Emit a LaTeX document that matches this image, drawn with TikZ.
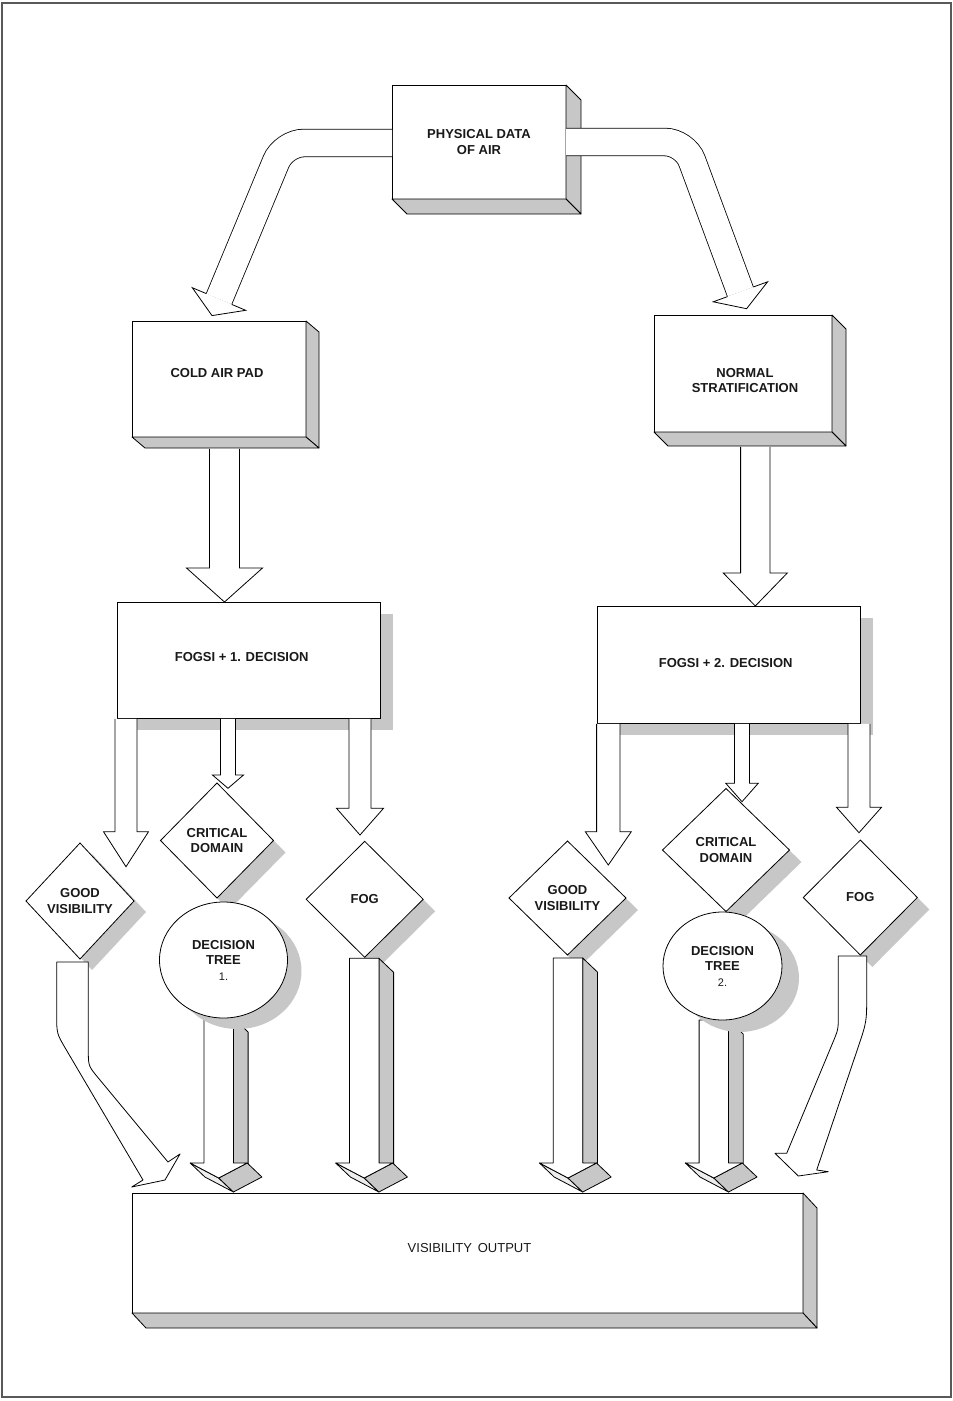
\documentclass[tikz,border=0pt]{standalone}
\usepackage{fontspec}
\setmainfont{Liberation Sans}
\usetikzlibrary{shapes.geometric,calc}
\pgfdeclarelayer{bg}
\pgfdeclarelayer{mid}
\pgfdeclarelayer{fore}
\pgfsetlayers{bg,main,mid,fore}
\tikzset{
  shade3/.style={fill=black!22, draw=black, line width=0.8pt, line join=round},
  shadowc/.style={fill=black!22},
  lite/.style={fill=black!7, draw=black, line width=0.8pt, line join=round},
  boxn/.style={draw=black, line width=0.8pt, fill=white, rectangle, inner sep=0pt, outer sep=0pt},
  dia/.style={diamond, draw=black, line width=0.8pt, fill=white, inner sep=0pt, outer sep=0pt},
  ell/.style={ellipse, draw=black, line width=0.8pt, fill=white, inner sep=0pt, outer sep=0pt},
  lbl/.style={font=\fontsize{13}{15.5}\selectfont\bfseries, align=center, text=black!90},
  hol/.style={draw=black, line width=0.8pt, double=white, double distance=26.8pt, rounded corners=20pt},
  harr/.style={fill=white, draw=black, line width=0.8pt, line join=miter},
}
% extrusion of a box node
\newcommand\extr[3]{%
  \filldraw[shade3] (#1.north east) -- ++(#2,#3) -- ($(#1.south east)+(#2,#3)$) -- (#1.south east) -- cycle;
  \filldraw[shade3] (#1.south west) -- (#1.south east) -- ($(#1.south east)+(#2,#3)$) -- ($(#1.south west)+(#2,#3)$) -- cycle;
}
% hollow vertical arrow: top, tip, half shaft, half head, head length
\newcommand\vhol[5]{%
  \coordinate (hb) at ($(#2)+(0,-#5)$);
  \filldraw[harr] ($(#1)+(-#3,0.8)$) -- ($(hb -| #1)+(-#3,0)$) -- ($(hb)+(-#4,0)$) -- (#2) -- ($(hb)+(#4,0)$) -- ($(hb -| #1)+(#3,0)$) -- ($(#1)+(#3,0.8)$);
}
% 3d arrow: top coordinate, head base coordinate
\newcommand\darr[2]{%
  \coordinate (T0) at (#1);
  \coordinate (B0) at (#2 -| T0);
  \filldraw[shade3] ($(T0)+(14.7,0)$) -- ($(T0)+(29.4,14)$) -- ($(B0)+(29.4,14)$) -- ($(B0)+(14.7,0)$) -- cycle;
  \filldraw[lite] ($(B0)+(-28.5,0)$) -- ($(B0)+(0,15)$) -- ($(B0)+(14.7,29)$) -- ($(B0)+(-13.8,14)$) -- cycle;
  \filldraw[shade3] ($(B0)+(0,15)$) -- ($(B0)+(28.5,0)$) -- ($(B0)+(43.2,14)$) -- ($(B0)+(14.7,29)$) -- cycle;
  \filldraw[fill=white, draw=black, line width=0.8pt, line join=round] ($(T0)+(-14.7,0)$) -- ($(B0)+(-14.7,0)$) -- ($(B0)+(-28.5,0)$) -- ($(B0)+(0,15)$) -- ($(B0)+(28.5,0)$) -- ($(B0)+(14.7,0)$) -- ($(T0)+(14.7,0)$) -- cycle;
}
\begin{document}
\begin{tikzpicture}[x=1pt,y=-1pt]
\useasboundingbox (0,0) rectangle (953,1401);
\draw[black!65, line width=1.4pt] (2,3) rectangle (951,1397);

% ---------- boxes ----------
\node[boxn, minimum width=174, minimum height=114, lbl] (phys) at (479,142) {PHYSICAL DATA\\OF AIR};
\extr{phys}{15}{15}

\node[boxn, minimum width=174, minimum height=116] (cap) at (219,379) {};
\node[lbl] (capl) at (217,373) {COLD AIR PAD};
\extr{cap}{13}{11}

\node[boxn, minimum width=178, minimum height=117] (norm) at (743,373.5) {};
\node[lbl] (norml) at (745,380.5) {NORMAL\\STRATIFICATION};
\extr{norm}{14}{14}

\node[boxn, minimum width=263, minimum height=116] (f1) at (248.5,660) {};
\node[lbl] (f1l) at (241.7,657.5) {FOGSI + 1. DECISION};
\node[boxn, minimum width=263, minimum height=117] (f2) at (728.5,664.5) {};
\node[lbl] (f2l) at (725.7,663.3) {FOGSI + 2. DECISION};
\begin{pgfonlayer}{bg}
  \fill[shadowc] ($(f1.south west)+(13,12)$) rectangle ($(f1.north east)+(13,12)$);
  \fill[shadowc] ($(f2.south west)+(13,12)$) rectangle ($(f2.north east)+(13,12)$);
\end{pgfonlayer}

\node[boxn, minimum width=671, minimum height=120] (vo) at (467.5,1253) {};
\node[lbl, font=\fontsize{13}{15.5}\selectfont] (vol) at (469.5,1248) {VISIBILITY\, OUTPUT};
\extr{vo}{14}{15}

% ---------- diamonds ----------
\node[dia, minimum width=108, minimum height=116, lbl] (gv1) at (80,901) {GOOD\\VISIBILITY};
\node[dia, minimum width=113, minimum height=115, lbl] (cd1) at (217,840.5) {CRITICAL\\DOMAIN};
\node[dia, minimum width=117, minimum height=116, lbl] (fog1) at (364.7,899.3) {FOG};
\node[dia, minimum width=117, minimum height=114, lbl] (gv2) at (567.5,898) {GOOD\\VISIBILITY};
\node[dia, minimum width=127, minimum height=123, lbl] (cd2) at (726,850) {CRITICAL\\DOMAIN};
\node[dia, minimum width=114, minimum height=115, lbl] (fog2) at (860.3,897.5) {FOG};
\begin{pgfonlayer}{bg}
  \foreach \d/\ox/\oy in {gv1/12/11, cd1/12/12, fog1/12/12, gv2/12/12, cd2/12/12, fog2/12/12}{
    \fill[shadowc] ($(\d.north)+(\ox,\oy)$) -- ($(\d.east)+(\ox,\oy)$) -- ($(\d.south)+(\ox,\oy)$) -- ($(\d.west)+(\ox,\oy)$) -- cycle;
  }
\end{pgfonlayer}

% ---------- decision tree ellipses ----------
\begin{pgfonlayer}{fore}
\node[ell, minimum width=128, minimum height=116, lbl] (dt1) at (223.5,960) {DECISION\\TREE\\{\fontsize{11}{15.5}\selectfont\mdseries 1.}};
\node[ell, minimum width=119, minimum height=108, lbl] (dt2) at (722.5,966) {DECISION\\TREE\\{\fontsize{11}{15.5}\selectfont\mdseries 2.}};
\end{pgfonlayer}
\begin{pgfonlayer}{mid}
  \fill[shadowc] ($(dt1.center)+(14,11)$) ellipse [x radius=64pt, y radius=58pt];
  \fill[shadowc] ($(dt2.center)+(17,12)$) ellipse [x radius=59.5pt, y radius=54pt];
\end{pgfonlayer}

% ---------- bent arrows from top box ----------
\draw[hol] ($(phys.west)+(0,1)$) -- (283.8,143) -- (219,299);
\filldraw[harr] (206.3,293.6) -- (192.3,287.7) -- (212,315.6) -- (245.7,310.3) -- (231.7,304.4);
\draw[hol] (phys.east) -- (685,142) -- (740.4,291.8);
\filldraw[harr] (753.3,287.0) -- (767.6,281.8) -- (746.6,308.7) -- (713.2,301.8) -- (727.5,296.6);

% ---------- straight hollow arrows ----------
\coordinate (a1s) at ($(cap.south)+(5.5,11)$);
\coordinate (a1t) at (f1.north -| a1s);
\vhol{a1s}{a1t}{15}{38}{34}
\coordinate (a2s) at ($(norm.south)+(12.3,14)$);
\coordinate (a2t) at (f2.north -| a2s);
\vhol{a2s}{a2t}{14.7}{32}{33}

\coordinate (b1s) at (f1.south -| 126,0);
\coordinate (b1t) at (126,866.7);
\vhol{b1s}{b1t}{11}{22.5}{35}
\coordinate (b2s) at (f1.south -| 228,0);
\coordinate (b2t) at (228,788.3);
\vhol{b2s}{b2t}{7.5}{15.5}{13.3}
\coordinate (b3s) at (f1.south -| 360,0);
\coordinate (b3t) at (360,835);
\vhol{b3s}{b3t}{11}{23.5}{26.7}

\coordinate (c1s) at (f2.south -| 608.3,0);
\coordinate (c1t) at (608.3,865);
\vhol{c1s}{c1t}{11.7}{23}{33.3}
\coordinate (c2s) at (f2.south -| 742,0);
\coordinate (c2t) at (742,801.7);
\vhol{c2s}{c2t}{7.5}{16.2}{18.4}
\coordinate (c3s) at (f2.south -| 859,0);
\coordinate (c3t) at (859,832.7);
\vhol{c3s}{c3t}{11}{22.5}{25.4}

% ---------- 3D arrows into the output ----------
\coordinate (hbase) at ($(vo.north)+(0,-30)$);
\darr{$(dt1.south)+(-4.8,0)$}{hbase}
\darr{$(fog1.south)+(-0.5,1)$}{hbase}
\darr{$(gv2.south)+(0.5,3)$}{hbase}
\darr{$(dt2.south)+(-8.7,0)$}{hbase}

% ---------- curved arrows ----------
\coordinate (g1a) at ($(gv1.south)+(-23.3,3)$);
\coordinate (g1b) at ($(gv1.south)+(8.3,3)$);
\filldraw[harr, line join=round] (g1a) -- (56.7,1015) .. controls (56.7,1033.5) .. (65.8,1049) -- (143,1180)
  -- (131.7,1187) -- (165,1180) -- (180,1154) -- (168,1162)
  -- (98.5,1078.2) .. controls (88.3,1065.9) .. (88.3,1050) -- (g1b) -- cycle;

\coordinate (f2a) at ($(fog2.south)+(-22,1)$);
\coordinate (f2b) at ($(fog2.south)+(6.4,1)$);
\filldraw[harr, line join=round] (f2a) -- (838.3,1015) .. controls (838.3,1029.5) .. (832.5,1043.3) -- (786.7,1153.3)
  -- (775,1153.3) -- (798.3,1176) -- (828.3,1171.7) -- (816.7,1170)
  -- (858.1,1047.3) .. controls (866.7,1021.7) .. (866.7,995) -- (f2b) -- cycle;
\end{tikzpicture}
\end{document}
